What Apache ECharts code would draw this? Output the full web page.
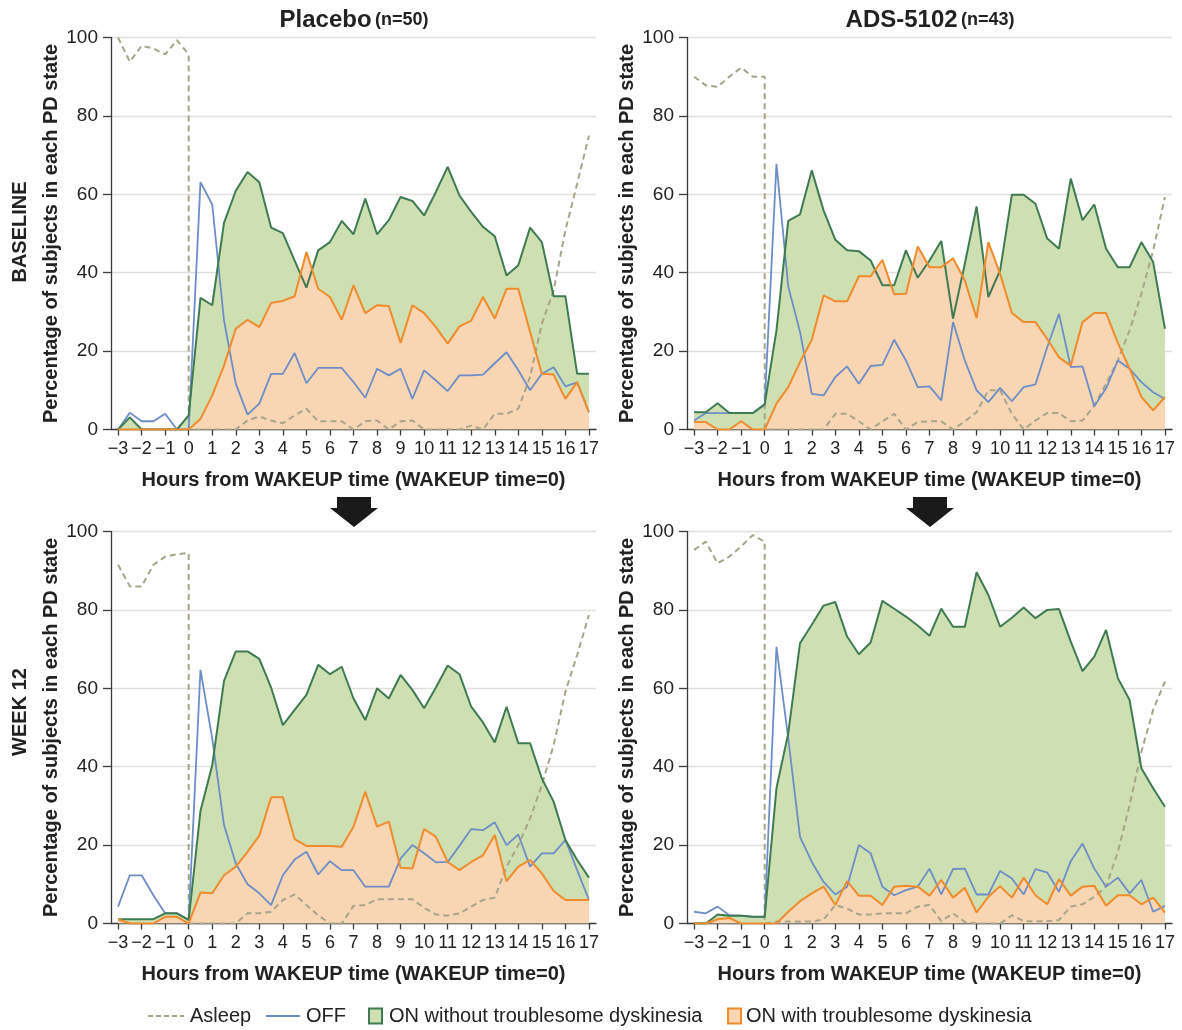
<!DOCTYPE html>
<html><head><meta charset="utf-8">
<script src="https://cdn.jsdelivr.net/npm/echarts@6/dist/echarts.min.js"></script>
<style>html,body{margin:0;padding:0;background:#fff}#c{width:1182px;height:1030px}</style>
</head><body><div id="c"></div>
<script>
// ---------- data ----------
const hours = [-3,-2.5,-2,-1.5,-1,-0.5,0,0.5,1,1.5,2,2.5,3,3.5,4,4.5,5,5.5,6,6.5,7,7.5,8,8.5,9,9.5,10,10.5,11,11.5,12,12.5,13,13.5,14,14.5,15,15.5,16,16.5,17];
// asleep curves drop vertically at wake-up, so hour 0 appears twice
const asleepHours = [-3,-2.5,-2,-1.5,-1,-0.5,0,0,0.5,1,1.5,2,2.5,3,3.5,4,4.5,5,5.5,6,6.5,7,7.5,8,8.5,9,9.5,10,10.5,11,11.5,12,12.5,13,13.5,14,14.5,15,15.5,16,16.5,17];
const tickHours = [-3,-2,-1,0,1,2,3,4,5,6,7,8,9,10,11,12,13,14,15,16,17];

// Placebo, baseline
const placeboBaseAsleep = [100,93.8,97.9,97.2,95.7,99.3,95.7,0, 0,0,0,0, 2.3,3.3,2.3,1.6,3.6,5.3,2.1,2.1,2.1, 0,2.1,2.3,0,2.1,2.3,0,0,0,0,1,0,4,4,5.3,13.4,27,35.5,50.8,62.7,75];
const placeboBaseOff = [0,4.3,2.1,2.1,4,0,0, 63.1,57.4,27.8,11.7,3.8,6.6,14.2,14.2,19.5,11.8,15.7,15.7,15.7, 12.1,8.1,15.5,13.8,15.5,7.8,15.1,12.5,9.8,13.8,13.8,14,16.9,19.7,15.1,10,14.2,15.9,11,12,4.4];
const placeboBaseOnNoTD = [0,3.1,0,0,0,0,3.6, 33.6,31.7,52.7,60.9,65.7,63.1,51.5,50.1,43.1,36.2,45.7,47.8,53.2, 49.8,58.9,49.8,53.4,59.3,58.3,54.6,60.6,67,59.7,55.5,51.7,49.3,39.3,41.9,51.5,47.8,34,34,14.2,14.2];
const placeboBaseOnTD = [0,0,0,0,0,0,0, 2.7,8.7,16.3,25.7,28,26.1,32.3,32.8,34,45.3,35.9,33.8,28, 36.8,29.7,31.7,31.5,22.1,31.7,29.7,26.1,21.9,26.3,27.8,33.8,28.3,35.9,35.9,24.9,14.2,14,7.8,12.1,4.4];

// ADS-5102, baseline
const adsBaseAsleep = [90,87.8,87.4,90,92.3,90,90,0, 0,0,0,0,0, 4,4,2.1,0,2.1,4,0,1.9, 2.1,2.1,0,2.1,4.4,10,10,4,0,2.3,4.2,4.2,2.1,2.3,6.1,11.7,17.6,25.3,34.6,45.7,59.3];
const adsBaseOff = [2.3,4.2,4.2,4.2,4.2,4.2,6.4, 67.8,36.5,24.9,9.1,8.7,13.4,16.1,11.7,16.2,16.5,22.9,17.6,10.8, 11,7.4,27.4,17.6,10,7,10.6,7.2,10.8,11.5,21,29.5,15.9,16.1,5.9,10.5,17.6,15.5,12.1,9.5,7.8];
const adsBaseOnNoTD = [4.4,4.4,6.7,4.2,4.2,4.2,6.4, 25.3,53.2,54.9,66.1,55.9,48.4,45.7,45.5,43.1,36.8,36.8,45.7,38.7, 43.1,48.1,28.3,42.3,56.9,33.8,40.6,59.9,59.9,57.6,48.7,46.1,64,53.4,57.4,46.1,41.4,41.4,47.8,42.7,25.7];
const adsBaseOnTD = [1.9,1.9,0,0,2.1,0,0, 6.6,10.8,17.2,22.9,34.2,32.7,32.7,39.1,39.1,43.3,34.5,34.6,46.7, 41.4,41.4,43.7,38,28.4,47.8,39.7,29.7,27.4,27.4,23.1,18.4,16.3,27.4,29.7,29.7,22.1,15.5,8.3,4.9,8.3];

// Placebo, week 12
const placeboWk12Asleep = [91.5,86,86,91.5,93.6,94.2,94.5,0, 0,0,0,0, 2.6,2.6,3,6,7.4,4.7,2.1,0,0, 4.5,4.7,6.2,6.2,6.2,6.2,4,2.3,2,2.6,4.3,6,6.6,14.5,20,26.8,35.3,45.5,59.1,68.5,78.7];
const placeboWk12Off = [4.3,12.3,12.3,7.2,2.6,2.6,0.9, 64.7,47.2,25.1,15.3,10,7.7,4.7,12.3,16.3,18.3,12.5,15.9,13.6, 13.6,9.4,9.4,9.4,16.6,20,17.9,15.6,15.7,19.8,24.1,23.8,25.8,20,22.7,14.5,17.9,17.9,21.3,13.6,6];
const placeboWk12OnNoTD = [1.1,1.1,1.1,1.1,2.6,2.6,0.9, 28.7,40.4,61.9,69.4,69.4,67.5,60.2,50.6,54.5,58.3,66,63.6,65.5, 57.4,51.9,60,57.4,63.4,59.6,54.9,60.2,65.8,63.6,55.3,51.3,46.2,55.3,46,46,37,31.1,21.3,16.2,11.7];
const placeboWk12OnTD = [1.1,0,0,0,1.7,1.7,0, 7.9,7.7,12.3,14.5,18.3,22.4,32.2,32.2,21.5,19.8,19.8,19.8,19.6, 24.7,33.6,24.7,26,14.2,14,24.1,22.1,15.7,13.6,15.7,17.4,22.6,10.8,14.5,16.2,12.8,8.3,6,6,6];

// ADS-5102, week 12
const adsWk12Asleep = [95.3,97.4,91.9,93.6,96.2,99.1,97.4,0, 0.5,0.5,0.5,0.5,1, 4.7,3.8,2.3,2.3,2.6,2.6,2.6,4.3, 4.7,0.6,2.6,0.4,0,0,0,2.1,0.6,0.6,0.6,0.9,4.3,4.9,6.8,9.4,18.3,30.2,43.8,54.5,61.7];
const adsWk12Off = [3,2.6,4.3,2.1,2,1.7,1.7, 70.6,47.2,22.1,15.7,10.6,7.4,9.4,20,17.9,9.4,7.2,8.5,9.4, 14,7.4,13.9,14,7.4,7.4,13.4,11.5,7.4,13.9,13,8.1,15.9,20.4,14,9.4,11.7,7.7,11.1,3,4.5];
const adsWk12OnNoTD = [0,0,2.3,2,2,1.7,1.7, 34.5,48.5,71.5,76.2,81.1,82,73.2,68.7,71.7,82.3,80.3,78.3,76, 73.4,80.3,75.7,75.7,89.6,83.8,75.7,78,80.6,77.9,80,80.2,71.9,64.4,68.1,74.9,62.6,57,39.6,34.5,29.8];
const adsWk12OnTD = [0,0,1.1,1.4,0,0,0, 0,3,5.7,7.7,9.4,4.7,10.8,7.1,7.1,4.7,9.4,9.6,9.4, 7.1,11.1,6.6,9.1,2.8,6.8,9.5,6.6,11.7,7.2,4.9,11.3,7.1,9.4,9.6,4.5,7.2,7.2,4.9,6.6,2.8];

const groupTitles = [['Placebo','(n=50)'],['ADS-5102','(n=43)']];
const rowLabels = ['BASELINE','WEEK 12'];
const seriesNames = ['Asleep','OFF','ON without troublesome dyskinesia','ON with troublesome dyskinesia'];
const xAxisName = 'Hours from WAKEUP time (WAKEUP time=0)';
const yAxisName = 'Percentage of subjects in each PD state';

// ---------- styling ----------
const FONT = "'Liberation Sans', Arial, Helvetica, sans-serif";
const C = {
  asleep:'#a6a58a', off:'#6d8dc8', noLine:'#3f7b52', noFill:'#cee0b2',
  tdLine:'#f08a2b', tdFill:'#f8d6b4', axis:'#3a3a3a', grid:'#e2dedb', text:'#222'
};
const panels = [
  {left:111, top:37.5, d:[placeboBaseAsleep, placeboBaseOff, placeboBaseOnNoTD, placeboBaseOnTD]},
  {left:687, top:37.5, d:[adsBaseAsleep, adsBaseOff, adsBaseOnNoTD, adsBaseOnTD]},
  {left:111, top:531.5, d:[placeboWk12Asleep, placeboWk12Off, placeboWk12OnNoTD, placeboWk12OnTD]},
  {left:687, top:531.5, d:[adsWk12Asleep, adsWk12Off, adsWk12OnNoTD, adsWk12OnTD]}
];
const W = 485, H = 392;

function pairs(xs, ys){ return xs.map((x,i)=>[x, ys[i]]); }
const fmtX = v => v < 0 ? '\u2212' + (-v) : String(v);

const grids = [], xAxes = [], yAxes = [], series = [];
panels.forEach((p, i) => {
  grids.push({left:p.left, top:p.top, width:W, height:H});
  xAxes.push({
    type:'value', gridIndex:i, min:-3.3, max:17.3,
    axisLine:{show:true, onZero:false, lineStyle:{color:C.axis, width:1.3}},
    axisTick:{show:true, customValues:tickHours, length:6, lineStyle:{color:C.axis, width:1.3}},
    axisLabel:{customValues:tickHours, formatter:fmtX, fontSize:18, color:C.text, fontFamily:FONT, margin:11},
    splitLine:{show:false},
    name:xAxisName, nameLocation:'middle', nameGap:41,
    nameTextStyle:{fontSize:20, fontWeight:'bold', color:C.text, fontFamily:FONT}
  });
  yAxes.push({
    type:'value', gridIndex:i, min:0, max:100, interval:20,
    axisLine:{show:true, onZero:false, lineStyle:{color:C.axis, width:1.3}},
    axisTick:{show:true, length:8, lineStyle:{color:C.axis, width:1.3}},
    axisLabel:{fontSize:19, color:C.text, fontFamily:FONT, margin:13},
    splitLine:{show:true, lineStyle:{color:C.grid, width:1.3}},
    name:yAxisName, nameLocation:'middle', nameGap:50,
    nameTextStyle:{fontSize:20, fontWeight:'bold', color:C.text, fontFamily:FONT}
  });
  const base = {type:'line', xAxisIndex:i, yAxisIndex:i, symbol:'none', animation:false, silent:true};
  // filled areas
  series.push(Object.assign({}, base, {name:seriesNames[2], data:pairs(hours, p.d[2]), z:1,
    lineStyle:{width:0, opacity:0}, areaStyle:{color:C.noFill, opacity:1}}));
  series.push(Object.assign({}, base, {name:seriesNames[3], data:pairs(hours, p.d[3]), z:2,
    lineStyle:{width:0, opacity:0}, areaStyle:{color:C.tdFill, opacity:1}}));
  // lines
  series.push(Object.assign({}, base, {name:seriesNames[0], data:pairs(asleepHours, p.d[0]), z:3,
    lineStyle:{color:C.asleep, width:2, type:[6,4]}}));
  series.push(Object.assign({}, base, {name:seriesNames[1], data:pairs(hours, p.d[1]), z:3,
    lineStyle:{color:C.off, width:1.8}}));
  series.push(Object.assign({}, base, {name:seriesNames[2], data:pairs(hours, p.d[2]), z:3,
    lineStyle:{color:C.noLine, width:2}}));
  series.push(Object.assign({}, base, {name:seriesNames[3], data:pairs(hours, p.d[3]), z:3,
    lineStyle:{color:C.tdLine, width:2}}));
});

// ---------- graphic annotations ----------
const graphic = [];
[354, 930].forEach((cx, k) => {
  graphic.push({type:'text', x:cx, y:20, style:{
    text:'{a|' + groupTitles[k][0] + '} {b|' + groupTitles[k][1] + '}',
    textAlign:'center', textVerticalAlign:'middle',
    rich:{a:{fontSize:24, fontWeight:'bold', fontFamily:FONT, fill:C.text},
          b:{fontSize:18, fontWeight:'bold', fontFamily:FONT, fill:C.text}}
  }});
  // arrows between rows
  graphic.push({type:'polygon', shape:{points:[
    [cx-17,497],[cx+17,497],[cx+17,508],[cx+24,508],[cx,527],[cx-24,508],[cx-17,508]]},
    style:{fill:'#1a1a1a'}});
});
[[232, rowLabels[0]], [712, rowLabels[1]]].forEach(([cy, t]) => {
  graphic.push({type:'text', x:20, y:cy, rotation:Math.PI/2, style:{
    text:t, textAlign:'center', textVerticalAlign:'middle',
    fontSize:20, fontWeight:'bold', fontFamily:FONT, fill:C.text}});
});
// legend
const LY = 1016;
graphic.push({type:'line', shape:{x1:148, y1:LY, x2:184, y2:LY}, style:{stroke:C.asleep, lineWidth:2, lineDash:[5,3]}});
graphic.push({type:'text', x:190, y:LY, style:{text:seriesNames[0], textVerticalAlign:'middle', fontSize:20, fontFamily:FONT, fill:C.text}});
graphic.push({type:'line', shape:{x1:266, y1:LY, x2:300, y2:LY}, style:{stroke:C.off, lineWidth:2}});
graphic.push({type:'text', x:306, y:LY, style:{text:seriesNames[1], textVerticalAlign:'middle', fontSize:20, fontFamily:FONT, fill:C.text}});
graphic.push({type:'rect', shape:{x:369, y:LY-7.5, width:13, height:15}, style:{fill:C.noFill, stroke:C.noLine, lineWidth:2}});
graphic.push({type:'text', x:389, y:LY, style:{text:seriesNames[2], textVerticalAlign:'middle', fontSize:20, fontFamily:FONT, fill:C.text}});
graphic.push({type:'rect', shape:{x:728, y:LY-7.5, width:13, height:15}, style:{fill:C.tdFill, stroke:C.tdLine, lineWidth:2}});
graphic.push({type:'text', x:746, y:LY, style:{text:seriesNames[3], textVerticalAlign:'middle', fontSize:20, fontFamily:FONT, fill:C.text}});

const chart = echarts.init(document.getElementById('c'), null, {renderer:'canvas'});
chart.setOption({
  animation:false, backgroundColor:'#fff',
  grid:grids, xAxis:xAxes, yAxis:yAxes, series:series, graphic:graphic
});
</script></body></html>
